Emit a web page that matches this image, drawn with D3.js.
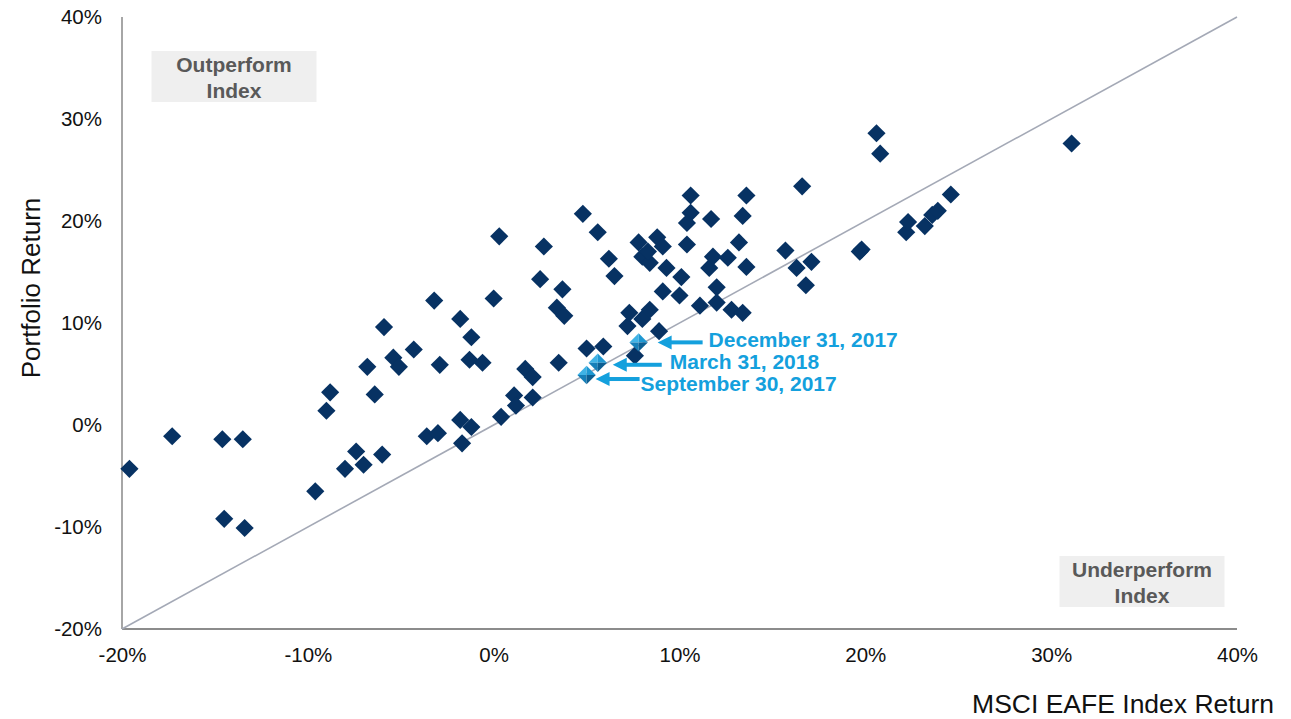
<!DOCTYPE html>
<html><head><meta charset="utf-8">
<script src="https://cdn.jsdelivr.net/npm/d3@7"></script>
<style>body{margin:0;background:#fff;}svg{display:block;font-family:"Liberation Sans",Arial,sans-serif;}</style>
</head><body><svg id="c" width="1291" height="719"></svg>
<script>
// Index return (x, %) and Portfolio return (y, %)
const indexReturn = [-19.6,-17.3,-14.6,-13.5,-14.5,-13.4,-9.6,-9.0,-8.8,-8.0,-7.4,-7.0,-6.8,-6.4,-6.0,-5.9,-5.4,-5.1,-4.3,-3.6,-3.2,-3.0,-2.9,-1.8,-1.8,-1.7,-1.2,-1.2,-1.3,-0.6,0.0,0.3,0.4,1.1,1.2,1.7,2.1,2.1,2.5,2.7,3.4,3.8,3.7,3.5,4.8,5.6,5.0,5.9,6.2,6.5,7.2,7.3,7.6,8.0,8.4,8.9,7.8,8.8,9.1,8.0,8.4,9.3,8.3,9.1,10.0,10.1,10.4,10.6,10.6,10.4,11.1,11.6,11.8,11.7,12.0,12.0,12.6,12.8,13.2,13.4,13.4,13.6,13.6,15.7,16.3,16.6,16.8,17.1,19.8,19.7,20.6,20.8,22.2,22.3,23.2,23.6,23.9,24.6,31.1];
const portfolioReturn = [-4.3,-1.1,-1.4,-1.4,-9.2,-10.1,-6.5,1.4,3.2,-4.3,-2.6,-3.9,5.7,3.0,-2.9,9.6,6.6,5.7,7.4,-1.1,12.2,-0.8,5.9,10.4,0.5,-1.8,8.6,-0.2,6.4,6.1,12.4,18.5,0.8,2.9,1.9,5.5,4.7,2.7,14.3,17.5,11.5,10.7,13.3,6.1,20.7,18.9,7.5,7.7,16.3,14.6,9.7,11.0,6.8,10.4,11.3,9.2,17.9,18.4,17.5,16.5,15.9,15.4,17.0,13.1,12.7,14.5,17.7,22.5,20.8,19.8,11.7,15.4,16.5,20.2,13.5,12.0,16.4,11.3,17.9,11.0,20.5,22.5,15.5,17.1,15.4,23.4,13.7,16.0,17.2,17.0,28.6,26.6,18.9,19.9,19.5,20.6,21.0,22.6,27.6];
// highlighted quarters
const hlLabels = ["December 31, 2017","March 31, 2018","September 30, 2017"];
const hlX = [7.8,5.6,5.0];
const hlY = [8.1,6.1,4.9];
const xTicks = [-20,-10,0,10,20,30,40];
const yTicks = [-20,-10,0,10,20,30,40];

const svg = d3.select("#c");
const x = d3.scaleLinear().domain([-20,40]).range([122,1237]);
const y = d3.scaleLinear().domain([-20,40]).range([629,17]);

// axes lines
svg.append("line").attr("x1",x(-20)).attr("x2",x(-20)).attr("y1",y(40)).attr("y2",y(-20)).attr("stroke","#a6a6a6").attr("stroke-width",2);
svg.append("line").attr("x1",x(-20)).attr("x2",x(40)).attr("y1",y(-20)).attr("y2",y(-20)).attr("stroke","#8c8c8c").attr("stroke-width",2);

// axes tick labels via d3 axis
const fmt = d => d + "%";
const gx = svg.append("g").attr("transform",`translate(0,${y(-20)})`)
  .call(d3.axisBottom(x).tickValues(xTicks).tickFormat(fmt).tickSize(0).tickPadding(18));
const gy = svg.append("g").attr("transform",`translate(${x(-20)},0)`)
  .call(d3.axisLeft(y).tickValues(yTicks).tickFormat(fmt).tickSize(0).tickPadding(20));
[gx,gy].forEach(g=>{g.select(".domain").remove();g.selectAll("text").attr("font-size",20.5).attr("fill","#111").attr("font-family","Liberation Sans, Arial, sans-serif");});

// diagonal
svg.append("line").attr("x1",x(-20)).attr("y1",y(-20)).attr("x2",x(40)).attr("y2",y(40)).attr("stroke","#a4a9b6").attr("stroke-width",1.6);

// boxes
function box(cx, top, lines){
  const g = svg.append("g");
  g.append("rect").attr("x",cx-82.5).attr("y",top).attr("width",165).attr("height",51).attr("fill","#efefef");
  lines.forEach((t,i)=>g.append("text").attr("x",cx).attr("y",top+21+i*25.5).attr("text-anchor","middle")
    .attr("font-size",21).attr("font-weight","bold").attr("fill","#595959").text(t));
}
box(234,51,["Outperform","Index"]);
box(1142,556,["Underperform","Index"]);

// points
const diamond = d3.symbol().type(d3.symbolSquare).size(165);
const pts = indexReturn.map((v,i)=>({x:v,y:portfolioReturn[i]}));
svg.append("g").selectAll("path").data(pts).join("path")
  .attr("d",diamond).attr("fill","#073263")
  .attr("transform",d=>`translate(${x(d.x)},${y(d.y)}) rotate(45)`);

// highlighted (pyramid-shaded diamonds)
const hl = hlX.map((v,i)=>({x:v,y:hlY[i],label:hlLabels[i]}));
const r = 9.2;
const facets = [
  {p:`M0,0 L${-r},0 L0,${-r} Z`, c:"#3fb3e6"},
  {p:`M0,0 L0,${-r} L${r},0 Z`, c:"#1f98d2"},
  {p:`M0,0 L${-r},0 L0,${r} Z`, c:"#167fb8"},
  {p:`M0,0 L${r},0 L0,${r} Z`, c:"#0c5f93"}
];
const hg = svg.append("g").selectAll("g").data(hl.slice().reverse()).join("g")
  .attr("transform",d=>`translate(${x(d.x)},${y(d.y)})`);
facets.forEach(f=>hg.append("path").attr("d",f.p).attr("fill",f.c));

// annotations: [tip dx, tip dy, shaft end dx, text dx, baseline dy]
const ann = [[19,0,64,70,5],[15,2,64,72,6],[9,4,53,54,16]];
const ag = svg.append("g");
hl.forEach((d,i)=>{
  const a = ann[i];
  const px = x(d.x), py = y(d.y);
  const tx = px+a[0], ty = py+a[1];
  ag.append("path").attr("d",`M${tx},${ty} L${tx+14},${ty-7} L${tx+14},${ty+7} Z`).attr("fill","#14a0dd");
  ag.append("rect").attr("x",tx+13).attr("y",ty-2).attr("width",px+a[2]-tx-13).attr("height",4).attr("fill","#14a0dd");
  ag.append("text").attr("x",px+a[3]).attr("y",py+a[4]).attr("font-size",21).attr("font-weight","bold").attr("fill","#14a0dd").text(d.label);
});

// axis titles
svg.append("text").attr("transform","translate(40,288) rotate(-90)").attr("text-anchor","middle").attr("font-size",26).attr("fill","#111").text("Portfolio Return");
svg.append("text").attr("x",1274).attr("y",713).attr("text-anchor","end").attr("font-size",26.5).attr("fill","#111").text("MSCI EAFE Index Return");
</script></body></html>
